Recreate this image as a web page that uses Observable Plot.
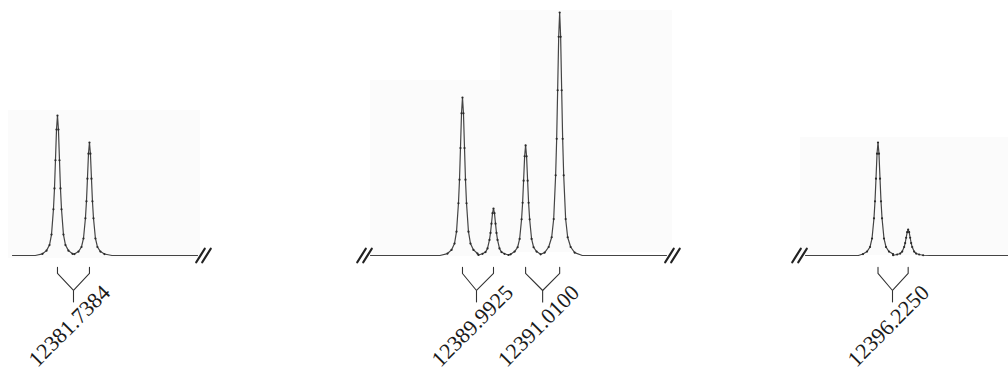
<!DOCTYPE html>
<html><head><meta charset="utf-8">
<script src="https://cdn.jsdelivr.net/npm/d3@7"></script>
<script src="https://cdn.jsdelivr.net/npm/@observablehq/plot@0.6"></script>
<style>
html,body{margin:0;padding:0;background:#fff;}
#chart{position:relative;width:1008px;height:371px;overflow:hidden;background:#fff;}
#chart svg{position:absolute;top:0;}
.scan{position:absolute;background:#fbfbfb;}
</style></head><body><div id="chart"></div>
<script>
// ---- data (wavenumbers in cm^-1, intensity in arbitrary units, strongest line = 100)
const lineLabels = ["12381.7384", "12389.9925", "12391.0100", "12396.2250"];
const lineValues = [12381.7384, 12389.9925, 12391.0100, 12396.2250];
const linePanel = [0, 1, 1, 2];
const lineComponents = [[0, 1], [2, 3], [4, 5], [6, 7]];

const peakPanel = [0, 0, 1, 1, 1, 1, 2, 2];
const peakCentres = [12381.492, 12381.984, 12389.777, 12390.254, 12390.748, 12391.272, 12396.002, 12396.466];
const sampleOffsets = [-0.231, -0.169, -0.123, -0.092, -0.062, -0.046, -0.031, -0.015, 0, 0.015, 0.031, 0.046, 0.062, 0.092, 0.123, 0.169, 0.231];
const peakProfiles = [
  [0.7, 2.0, 4.3, 8.6, 19.0, 27.6, 39.2, 51.8, 57.6, 51.8, 39.2, 27.6, 19.0, 8.6, 4.3, 2.0, 0.7],
  [0.6, 1.6, 3.5, 7.0, 15.3, 22.3, 31.6, 41.9, 46.5, 41.9, 31.6, 22.3, 15.3, 7.0, 3.5, 1.6, 0.6],
  [0.8, 2.3, 4.9, 9.8, 21.5, 31.2, 44.2, 58.5, 65.0, 58.5, 44.2, 31.2, 21.5, 9.8, 4.9, 2.3, 0.8],
  [0.2, 0.7, 1.4, 2.9, 6.4, 9.3, 13.1, 17.4, 19.3, 17.4, 13.1, 9.3, 6.4, 2.9, 1.4, 0.7, 0.2],
  [0.5, 1.6, 3.4, 6.8, 14.9, 21.7, 30.8, 40.8, 45.3, 40.8, 30.8, 21.7, 14.9, 6.8, 3.4, 1.6, 0.5],
  [1.2, 3.5, 7.5, 15.0, 33.0, 48.0, 68.0, 90.0, 100, 90.0, 68.0, 48.0, 33.0, 15.0, 7.5, 3.5, 1.2],
  [0.6, 1.6, 3.5, 7.0, 15.3, 22.3, 31.6, 41.9, 46.5, 41.9, 31.6, 22.3, 15.3, 7.0, 3.5, 1.6, 0.6],
  [0.1, 0.4, 0.8, 1.6, 3.5, 5.1, 7.3, 9.6, 10.7, 9.6, 7.3, 5.1, 3.5, 1.6, 0.8, 0.4, 0.1]
];
const baselinePoints = [
  [12380.800, 12381.150, 12382.330, 12383.646],
  [12388.362, 12389.430, 12391.620, 12392.915],
  [12394.887, 12395.700, 12396.800, 12398.010]
];
const breakPanel = [0, 1, 1, 2];
const breakSide = ["right", "left", "right", "left"];

// ---- layout (positions & styles)
const panels = [
  {left: 0, width: 240, domain: [12380.6154, 12384.3077]},
  {left: 340, width: 360, domain: [12387.9002, 12393.4387]},
  {left: 770, width: 238, domain: [12394.3481, 12398.0096]}
];
const yDomain = [-47.74, 100];
const bracket = {legTop: -4.9, legBottom: -7.4, apex: -14.4, stemBottom: -19.3, label: -29};
const scanPatches = [[8, 110, 192, 148], [370, 80, 130, 176], [500, 10, 172, 242], [800, 137, 208, 118]];

const chart = document.getElementById("chart");
for (const [l, t, w, h] of scanPatches) {
  const d = document.createElement("div");
  d.className = "scan";
  Object.assign(d.style, {left: l + "px", top: t + "px", width: w + "px", height: h + "px"});
  chart.appendChild(d);
}

panels.forEach((p, pi) => {
  const spectrum = [];
  const samples = [];
  peakCentres.forEach((c, k) => {
    if (peakPanel[k] !== pi) return;
    sampleOffsets.forEach((o, j) => {
      const pt = {nu: c + o, I: peakProfiles[k][j]};
      spectrum.push(pt);
      samples.push(pt);
    });
  });
  baselinePoints[pi].forEach(nu => spectrum.push({nu, I: 0}));
  const sorted = d3.sort(spectrum, d => d.nu);

  const brackets = [];
  const stems = [];
  const labels = [];
  lineValues.forEach((v, li) => {
    if (linePanel[li] !== pi) return;
    const [a, b] = lineComponents[li].map(k => peakCentres[k]);
    brackets.push(
      {id: li, x: a, y: bracket.legTop}, {id: li, x: a, y: bracket.legBottom},
      {id: li, x: v, y: bracket.apex},
      {id: li, x: b, y: bracket.legBottom}, {id: li, x: b, y: bracket.legTop}
    );
    stems.push({x: v, y1: bracket.apex, y2: bracket.stemBottom});
    labels.push({x: v, y: bracket.label, text: lineLabels[li]});
  });

  const breaks = [];
  breakPanel.forEach((bp, bi) => {
    if (bp !== pi) return;
    const right = breakSide[bi] === "right";
    const x = right ? baselinePoints[pi][baselinePoints[pi].length - 1] : baselinePoints[pi][0];
    breaks.push({x, y: 0, s: right ? 1 : -1});
  });

  const svg = Plot.plot({
    width: p.width, height: 371,
    marginTop: 12, marginBottom: 0, marginLeft: 0, marginRight: 0,
    style: {background: "transparent", overflow: "visible"},
    x: {domain: p.domain, axis: null},
    y: {domain: yDomain, axis: null},
    marks: [
      Plot.line(sorted, {x: "nu", y: "I", stroke: "#444", strokeWidth: 1.2, curve: "linear"}),
      Plot.dot(samples, {x: "nu", y: "I", r: 1.1, fill: "#2a2a2a", stroke: "none"}),
      Plot.line(brackets, {x: "x", y: "y", z: "id", stroke: "#333", strokeWidth: 1.1}),
      Plot.link(stems, {x1: "x", x2: "x", y1: "y1", y2: "y2", stroke: "#333", strokeWidth: 1.1}),
      Plot.text(labels, {x: "x", y: "y", text: "text", rotate: -45, dx: -4, fontSize: 22,
        fontFamily: "Liberation Serif", fill: "#1a1a1a", textAnchor: "middle"}),
      Plot.vector(breaks.filter(d => d.s > 0), {x: "x", y: "y", length: 16, rotate: 32, r: 0, dx: 3, stroke: "#222", strokeWidth: 2.2, anchor: "middle"}),
      Plot.vector(breaks.filter(d => d.s > 0), {x: "x", y: "y", length: 16, rotate: 32, r: 0, dx: 9, stroke: "#222", strokeWidth: 2.2, anchor: "middle"}),
      Plot.vector(breaks.filter(d => d.s < 0), {x: "x", y: "y", length: 16, rotate: 32, r: 0, dx: -3, stroke: "#222", strokeWidth: 2.2, anchor: "middle"}),
      Plot.vector(breaks.filter(d => d.s < 0), {x: "x", y: "y", length: 16, rotate: 32, r: 0, dx: -9, stroke: "#222", strokeWidth: 2.2, anchor: "middle"})
    ]
  });
  svg.style.left = p.left + "px";
  chart.appendChild(svg);
});
</script>
</body></html>
